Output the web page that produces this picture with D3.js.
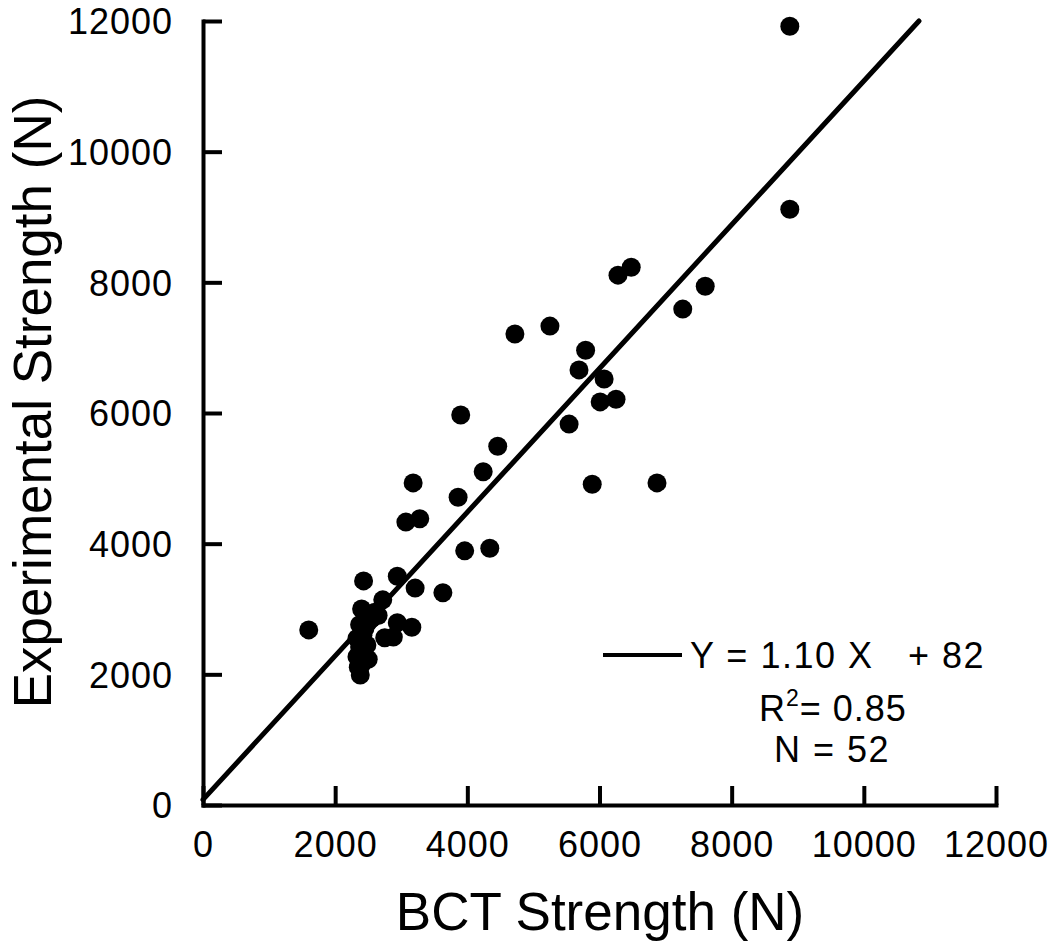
<!DOCTYPE html>
<html>
<head>
<meta charset="utf-8">
<script src="https://cdn.jsdelivr.net/npm/d3@7"></script>
<style>
  html, body { margin: 0; padding: 0; background: #fff; }
  svg { display: block; }
  text { font-family: "Liberation Sans", Arial, Helvetica, sans-serif; fill: #000; }
</style>
</head>
<body>
<svg id="chart" width="1050" height="945"></svg>
<script>
// ---- data ----
const bctStrength = [
  8880, 8880, 7600, 7260, 6480, 6280, 5790, 5690, 6070, 6010,
  6250, 5540, 5250, 4720, 5890, 6870, 3900, 4460, 4240, 3860,
  3180, 3070, 3280, 3960, 4340,
  1600, 2430, 2940, 3210, 3630, 2400, 2720, 2600, 2940, 3160,
  2750, 2370, 2880, 2370, 2450, 2330, 2350, 2380, 2500, 2550,
  2420, 2330, 2480, 2650, 2400, 2500, 2450
];
const expStrength = [
  11920, 9120, 7940, 7590, 8230, 8110, 6960, 6660, 6520, 6170,
  6210, 5830, 7330, 7210, 4910, 4930, 5970, 5490, 5100, 4710,
  4930, 4330, 4380, 3890, 3930,
  2680, 3430, 3500, 3320, 3250, 3000, 3140, 2950, 2790, 2720,
  2560, 2760, 2570, 2420, 2250, 2270, 2110, 1990, 2800, 2850,
  2600, 2550, 2450, 2900, 2150, 2230, 2700
];
const xTickValues = [0, 2000, 4000, 6000, 8000, 10000, 12000];
const yTickValues = [0, 2000, 4000, 6000, 8000, 10000, 12000];
const slope = 1.10;
const intercept = 82;
const xTitle = "BCT Strength (N)";
const yTitle = "Experimental Strength (N)";
const eqLabel = "Y = 1.10 X   + 82";
const r2Value = "0.85";
const nLabel = "N = 52";

// ---- layout ----
const svg = d3.select("#chart");
const x = d3.scaleLinear().domain([0, 12000]).range([203, 996]);
const y = d3.scaleLinear().domain([0, 12000]).range([805, 21]);

// axes
const xAxis = d3.axisBottom(x).tickValues(xTickValues).tickSizeInner(-19).tickSizeOuter(0).tickPadding(26).tickFormat(d3.format("d"));
const yAxis = d3.axisLeft(y).tickValues(yTickValues).tickSizeInner(-19).tickSizeOuter(0).tickPadding(30).tickFormat(d3.format("d"));

const gx = svg.append("g").attr("transform", `translate(0,${y(0)})`).call(xAxis);
const gy = svg.append("g").attr("transform", `translate(${x(0)},0)`).call(yAxis);

[gx, gy].forEach(g => {
  g.select(".domain").attr("stroke", "#000").attr("stroke-width", 4).attr("stroke-linecap", "square");
  g.selectAll(".tick line").attr("stroke", "#000").attr("stroke-width", 4);
  g.selectAll(".tick text")
    .attr("font-family", '"Liberation Sans", Arial, sans-serif')
    .attr("font-size", 36)
    .attr("letter-spacing", "1px")
    .attr("fill", "#000");
});
gy.selectAll(".tick text").attr("dy", "0.36em");

// axis titles
svg.append("text")
  .attr("x", 600).attr("y", 930)
  .attr("text-anchor", "middle")
  .attr("font-size", 53)
  .text(xTitle);

svg.append("text")
  .attr("transform", "translate(51,402) rotate(-90)")
  .attr("text-anchor", "middle")
  .attr("font-size", 53)
  .text(yTitle);

// regression line
const xEnd = (12000 - intercept) / slope;
svg.append("line")
  .attr("x1", x(0)).attr("y1", y(intercept))
  .attr("x2", x(xEnd)).attr("y2", y(slope * xEnd + intercept))
  .attr("stroke", "#000").attr("stroke-width", 5).attr("stroke-linecap", "round");

// points
const pts = bctStrength.map((v, i) => ({ bx: v, ey: expStrength[i] }));
svg.append("g").selectAll("circle").data(pts).join("circle")
  .attr("cx", d => x(d.bx)).attr("cy", d => y(d.ey))
  .attr("r", 9.5).attr("fill", "#000");

// legend
const lg = svg.append("g");
lg.append("line").attr("x1", 603).attr("x2", 682).attr("y1", 655).attr("y2", 655)
  .attr("stroke", "#000").attr("stroke-width", 4);
lg.append("text").attr("x", 690).attr("y", 668).attr("font-size", 36)
  .attr("letter-spacing", "1.5px").attr("xml:space", "preserve").style("white-space", "pre").text(eqLabel);
const r2 = lg.append("text").attr("x", 759).attr("y", 721).attr("font-size", 36).attr("letter-spacing", "1px");
r2.append("tspan").text("R");
r2.append("tspan").attr("font-size", 23).attr("dy", -15).text("2");
r2.append("tspan").attr("dy", 15).text("= " + r2Value);
lg.append("text").attr("x", 774).attr("y", 762).attr("font-size", 36).attr("letter-spacing", "1.5px")
  .text(nLabel);
</script>
</body>
</html>
